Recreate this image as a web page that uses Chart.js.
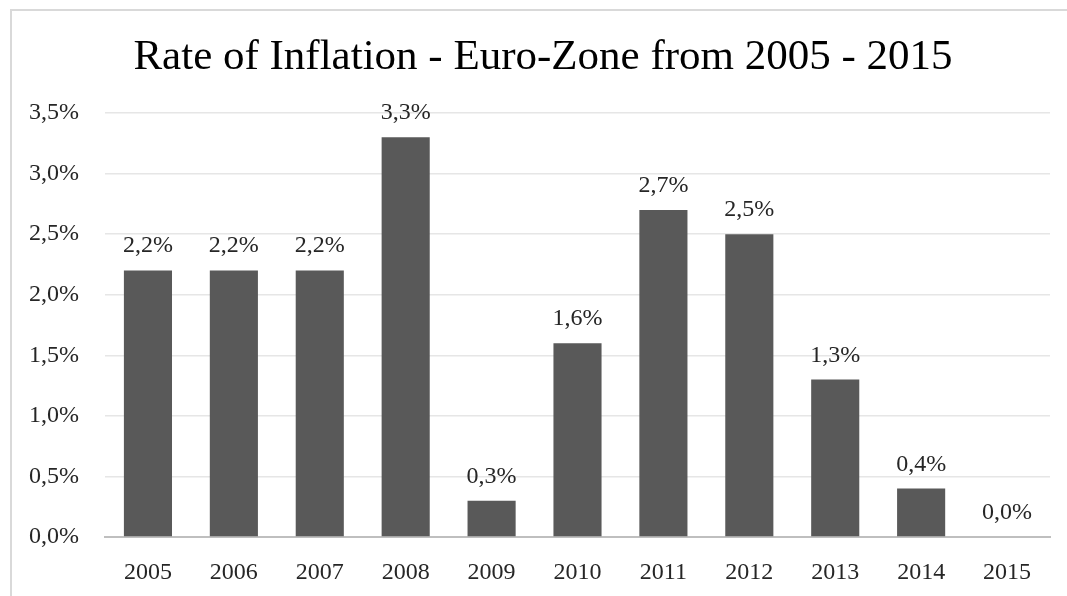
<!DOCTYPE html>
<html>
<head>
<meta charset="utf-8">
<script src="https://cdn.jsdelivr.net/npm/chart.js@4"></script>
<style>
  html, body { margin: 0; padding: 0; background: #fff; overflow: hidden; }
  #wrap { position: relative; width: 1067px; height: 596px; overflow: hidden; }
  #frame {
    position: absolute; left: 10px; top: 9px; width: 1100px; height: 640px;
    border-left: 2px solid #d9d9d9; border-top: 2px solid #d9d9d9;
  }
  #chart { position: absolute; left: 0; top: 0; }
</style>
</head>
<body>
<div id="wrap">
  <div id="frame"></div>
  <canvas id="chart" width="1067" height="596"></canvas>
</div>
<script>
const years = ['2005', '2006', '2007', '2008', '2009', '2010', '2011', '2012', '2013', '2014', '2015'];
const inflation = [2.2, 2.2, 2.2, 3.3, 0.3, 1.6, 2.7, 2.5, 1.3, 0.4, 0.0];
const yTicks = [0, 0.5, 1.0, 1.5, 2.0, 2.5, 3.0, 3.5];
const titleText = 'Rate of Inflation - Euro-Zone from 2005 - 2015';

const FONT = "'Liberation Serif', 'Times New Roman', serif";
const TEXT = '#262626';

function pct(v) {
  return v.toFixed(1).replace('.', ',') + '%';
}

// --- title (the built-in one can only centre on the padded box) ---
const chartTitle = {
  id: 'chartTitle',
  afterDraw(chart) {
    const ctx = chart.ctx;
    ctx.save();
    ctx.font = '43px ' + FONT;
    ctx.fillStyle = '#000';
    ctx.textAlign = 'center';
    ctx.textBaseline = 'alphabetic';
    ctx.fillText(titleText, 543, 69);
    ctx.restore();
  }
};

// --- bar value labels ---
const barLabels = {
  id: 'barLabels',
  afterDatasetsDraw(chart) {
    const ctx = chart.ctx;
    const meta = chart.getDatasetMeta(0);
    ctx.save();
    ctx.font = '24px ' + FONT;
    ctx.fillStyle = TEXT;
    ctx.textAlign = 'center';
    ctx.textBaseline = 'alphabetic';
    meta.data.forEach((bar, i) => {
      ctx.fillText(pct(inflation[i]), bar.x, bar.y - 18);
    });
    ctx.restore();
  }
};

const ctx = document.getElementById('chart').getContext('2d');
new Chart(ctx, {
  type: 'bar',
  data: {
    labels: years,
    datasets: [{
      data: inflation,
      backgroundColor: '#595959',
      borderWidth: 0,
      barPercentage: 1,
      categoryPercentage: 0.56,
    }]
  },
  options: {
    responsive: false,
    animation: false,
    layout: { padding: { left: 20, right: 17, top: 113, bottom: 0 } },
    plugins: {
      legend: { display: false },
      tooltip: { enabled: false },
      title: { display: false }
    },
    scales: {
      x: {
        grid: { display: false },
        border: { display: true, color: '#bfbfbf', width: 2 },
        ticks: { color: TEXT, font: { family: FONT, size: 24 }, padding: 13 },
        afterFit: (s) => { s.height = 59; },
      },
      y: {
        min: 0,
        max: 3.5,
        afterBuildTicks: (s) => { s.ticks = yTicks.map(v => ({ value: v })); },
        grid: { color: '#e6e6e6', lineWidth: 1.5, drawTicks: false },
        border: { display: false },
        ticks: {
          color: TEXT,
          font: { family: FONT, size: 24 },
          padding: 26,
          callback: (v) => pct(v),
        },
        afterFit: (s) => { s.width = 85; },
      }
    }
  },
  plugins: [barLabels, chartTitle]
});
</script>
</body>
</html>
